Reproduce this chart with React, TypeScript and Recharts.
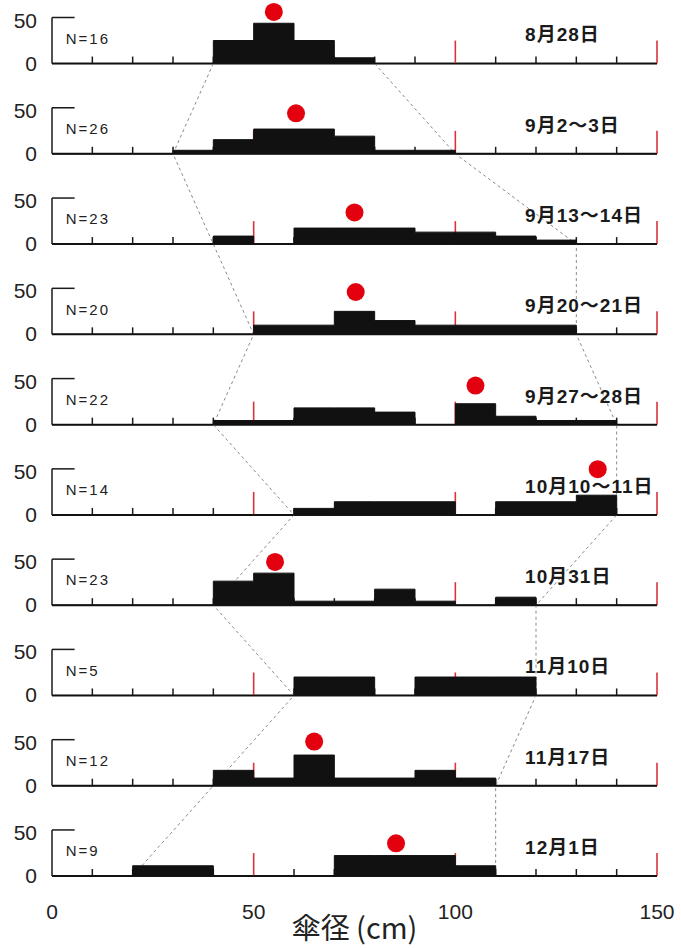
import React from 'react';
import { ComposedChart, Area, Line, Scatter, XAxis, YAxis, ReferenceLine } from 'recharts';

// ---- data ----
const binStarts = [0, 10, 20, 30, 40, 50, 60, 70, 80, 90, 100, 110, 120, 130, 140];
const xEnd = 150;
const xTicks = [0, 50, 100, 150];
const minorTicks = [10, 20, 30, 40, 60, 70, 80, 90, 110, 120, 130, 140];
const redTicks = [50, 100, 150];

const dates = ['8月28日', '9月2～3日', '9月13～14日', '9月20～21日', '9月27～28日', '10月10～11日', '10月31日', '11月10日', '11月17日', '12月1日'];
const counts = [16, 26, 23, 20, 22, 14, 23, 5, 12, 9];

const p1 = [0, 0, 0, 0, 25, 43.75, 25, 6.25, 0, 0, 0, 0, 0, 0, 0];
const p2 = [0, 0, 0, 3.85, 15.4, 26.9, 26.9, 19.2, 3.85, 3.85, 0, 0, 0, 0, 0];
const p3 = [0, 0, 0, 0, 8.7, 0, 17.4, 17.4, 17.4, 13, 13, 8.7, 4.35, 0, 0];
const p4 = [0, 0, 0, 0, 0, 10, 10, 25, 15, 10, 10, 10, 10, 0, 0];
const p5 = [0, 0, 0, 0, 4.5, 4.5, 18.2, 18.2, 13.6, 0, 22.7, 9.1, 4.5, 4.5, 0];
const p6 = [0, 0, 0, 0, 0, 0, 7.1, 14.3, 14.3, 14.3, 0, 14.3, 14.3, 21.4, 0];
const p7 = [0, 0, 0, 0, 26.1, 34.8, 4.35, 4.35, 17.4, 4.35, 0, 8.7, 0, 0, 0];
const p8 = [0, 0, 0, 0, 0, 0, 20, 20, 0, 20, 20, 20, 0, 0, 0];
const p9 = [0, 0, 0, 0, 16.7, 8.3, 33.3, 8.3, 8.3, 16.7, 8.3, 0, 0, 0, 0];
const p10 = [0, 0, 11.1, 11.1, 0, 0, 0, 22.2, 22.2, 22.2, 11.1, 0, 0, 0, 0];
const panels = [p1, p2, p3, p4, p5, p6, p7, p8, p9, p10];

const meanX = [55, 60.5, 75, 75.3, 105, 135.3, 55.3, null, 65, 85.3];
const meanY = [56, 44, 34.4, 46, 42.4, 49.6, 47, null, 48, 35.5];

const rangeLo = [40, 30, 40, 50, 40, 60, 40, 60, 40, 20];
const rangeHi = [80, 100, 130, 130, 140, 140, 120, 120, 110, 110];

// ---- layout constants (y units per panel) ----
const S = 98;
const YMAX = 951;
const base = (i: number) => (panels.length - 1 - i) * S;

const yTicks: number[] = [];
panels.forEach((_, i) => { yTicks.push(base(i)); yTicks.push(base(i) + 50); });

const areaData = panels.map((vals, i) => {
  const b = base(i);
  const rows = binStarts.map((x, k) => ({ x, v: [b, b + vals[k]] }));
  rows.push({ x: xEnd, v: [b, b] });
  return rows;
});

const minorData: any[] = [];
const redData: any[] = [];
panels.forEach((_, i) => {
  minorTicks.forEach((x) => minorData.push({ x, y: base(i) }));
  redTicks.forEach((x) => redData.push({ x, y: base(i) }));
});

const dotData = meanX
  .map((x, i) => (x == null ? null : { x, y: base(i) + (meanY[i] as number) }))
  .filter(Boolean) as any[];

const nLabelData = counts.map((n, i) => ({ x: 3.4, y: base(i) + 21.5, t: `N=${n}` }));
const dateLabelData = dates.map((d, i) => ({ x: 117.3, y: base(i) + 24, t: d }));

const leftPath = rangeLo.map((x, i) => ({ x, y: base(i) }));
const rightPath = rangeHi.map((x, i) => ({ x, y: base(i) }));

const FONT = "'Liberation Sans', Arial, 'Noto Sans CJK JP', sans-serif";

const YTick = (props: any) => {
  const { x, y, payload } = props;
  const v = payload.value % S;
  return (
    <text x={x} y={y} dy={v === 0 ? 7 : 10} textAnchor="end" fontSize={21} fill="#222" fontFamily={FONT}>
      {String(v)}
    </text>
  );
};

export default function App() {
  return (
    <div style={{ position: 'absolute', left: 0, top: 0, width: 681, height: 948, background: '#fff' }}>
      <ComposedChart width={681} height={948} margin={{ top: 0, right: 24, bottom: 0, left: 0 }}>
        <XAxis
          type="number"
          dataKey="x"
          domain={[0, 150]}
          ticks={xTicks}
          axisLine={false}
          tickLine={false}
          tickSize={0}
          tickMargin={28}
          height={72}
          tick={{ fontSize: 21, fill: '#222', fontFamily: FONT }}
          label={{ value: '傘径 (cm)', position: 'insideBottom', offset: 9, style: { fontSize: 29, fill: '#222', fontFamily: "'Noto Sans CJK JP', 'Liberation Sans', sans-serif" } }}
        />
        <YAxis
          type="number"
          dataKey="y"
          domain={[0, YMAX]}
          ticks={yTicks}
          axisLine={false}
          tickLine={false}
          tickSize={0}
          tickMargin={15}
          width={52}
          interval={0}
          tick={<YTick />}
        />
        {panels.map((_, i) => (
          <ReferenceLine key={`ax${i}`} y={base(i)} stroke="#1a1a1a" strokeWidth={2} zIndex={40} />
        ))}
        {panels.map((_, i) => (
          <ReferenceLine key={`yv${i}`} segment={[{ x: 0, y: base(i) }, { x: 0, y: base(i) + 50 }]} stroke="#1a1a1a" strokeWidth={1.5} zIndex={40} />
        ))}
        {panels.map((_, i) => (
          <ReferenceLine key={`yh${i}`} segment={[{ x: 0, y: base(i) + 50 }, { x: 5.6, y: base(i) + 50 }]} stroke="#1a1a1a" strokeWidth={1.5} zIndex={40} />
        ))}
        <Scatter
          data={redData}
          dataKey="y"
          isAnimationActive={false}
          zIndex={50}
          shape={(p: any) => <line x1={p.cx} x2={p.cx} y1={p.cy} y2={p.cy - 23} stroke="#d8343c" strokeWidth={1.6} />}
        />
        <Scatter
          data={minorData}
          dataKey="y"
          isAnimationActive={false}
          zIndex={50}
          shape={(p: any) => <line x1={p.cx} x2={p.cx} y1={p.cy} y2={p.cy - 7} stroke="#1a1a1a" strokeWidth={1.5} />}
        />
        <Line data={leftPath} dataKey="y" type="linear" stroke="#8a8a8a" strokeWidth={1} strokeDasharray="3 3" dot={false} activeDot={false} isAnimationActive={false} zIndex={60} />
        <Line data={rightPath} dataKey="y" type="linear" stroke="#8a8a8a" strokeWidth={1} strokeDasharray="3 3" dot={false} activeDot={false} isAnimationActive={false} zIndex={60} />
        {areaData.map((d, i) => (
          <Area
            key={`a${i}`}
            data={d}
            dataKey="v"
            type="stepAfter"
            stroke="#111"
            strokeWidth={1}
            fill="#111"
            fillOpacity={1}
            dot={false}
            activeDot={false}
            isAnimationActive={false}
            zIndex={100}
          />
        ))}
        <Scatter
          data={dotData}
          dataKey="y"
          isAnimationActive={false}
          zIndex={600}
          shape={(p: any) => <circle cx={p.cx} cy={p.cy} r={9} fill="#e3000f" />}
        />
        <Scatter
          data={nLabelData}
          dataKey="y"
          isAnimationActive={false}
          zIndex={600}
          shape={(p: any) => (
            <text x={p.cx} y={p.cy} fontSize={15} letterSpacing={2} fill="#222" fontFamily={FONT}>
              {p.payload.t}
            </text>
          )}
        />
        <Scatter
          data={dateLabelData}
          dataKey="y"
          isAnimationActive={false}
          zIndex={600}
          shape={(p: any) => (
            <text x={p.cx} y={p.cy} fontSize={19} fontWeight="bold" letterSpacing={1} fill="#1a1a1a" fontFamily={FONT}>
              {p.payload.t}
            </text>
          )}
        />
      </ComposedChart>
    </div>
  );
}
